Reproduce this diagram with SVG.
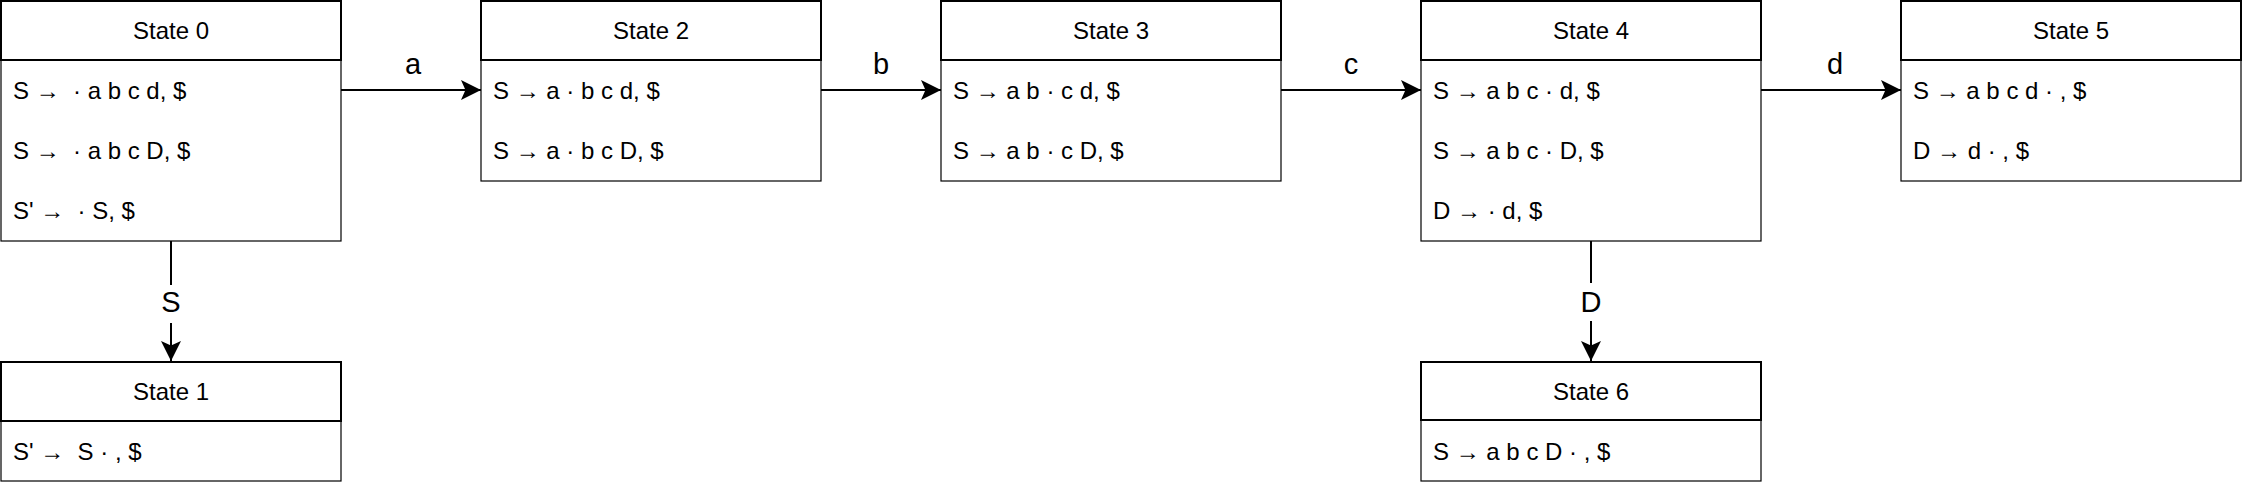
<svg xmlns="http://www.w3.org/2000/svg" width="2244" height="482" viewBox="0 0 2244 482">
<defs>
<style>
.hd{fill:#fff;stroke:#000;stroke-width:2}
.bd{fill:#fff;stroke:#000;stroke-width:1.2}
.t{font-family:"Liberation Sans",Arial,sans-serif;font-size:24px;fill:#000;white-space:pre}
.c{text-anchor:middle}
.e{fill:none;stroke:#000;stroke-width:2}
.lb{font-family:"Liberation Sans",Arial,sans-serif;font-size:29px;fill:#000;text-anchor:middle}
</style>
<marker id="ar" markerUnits="userSpaceOnUse" markerWidth="20" markerHeight="20" viewBox="0 0 18 18" refX="18" refY="9" orient="auto">
<path d="M0,0 L18,9 L0,18 L4,9 Z" fill="#000"/>
</marker>
</defs>
<rect width="2244" height="482" fill="#fff"/>
<g id="edges">
<line class="e" x1="341" y1="90" x2="481" y2="90" marker-end="url(#ar)"/>
<text class="lb" x="413" y="74">a</text>
<line class="e" x1="821" y1="90" x2="941" y2="90" marker-end="url(#ar)"/>
<text class="lb" x="881" y="74">b</text>
<line class="e" x1="1281" y1="90" x2="1421" y2="90" marker-end="url(#ar)"/>
<text class="lb" x="1351" y="74">c</text>
<line class="e" x1="1761" y1="90" x2="1901" y2="90" marker-end="url(#ar)"/>
<text class="lb" x="1835" y="74">d</text>
<line class="e" x1="171" y1="241" x2="171" y2="361" marker-end="url(#ar)"/>
<rect x="158" y="285" width="26" height="38" fill="#fff"/>
<text class="lb" x="171" y="312">S</text>
<line class="e" x1="1591" y1="241" x2="1591" y2="361" marker-end="url(#ar)"/>
<rect x="1577" y="283" width="28" height="38" fill="#fff"/>
<text class="lb" x="1591" y="312">D</text>
</g>
<g id="state0">
<rect class="bd" x="1" y="60" width="340" height="181"/>
<rect class="hd" x="1" y="1" width="340" height="59"/>
<text class="t c" x="171" y="39">State 0</text>
<text class="t" x="13" y="99">S →  · a b c d, $</text>
<text class="t" x="13" y="159">S →  · a b c D, $</text>
<text class="t" x="13" y="219">S' →  · S, $</text>
</g>
<g id="state1">
<rect class="bd" x="1" y="421" width="340" height="60"/>
<rect class="hd" x="1" y="362" width="340" height="59"/>
<text class="t c" x="171" y="400">State 1</text>
<text class="t" x="13" y="460">S' →  S · , $</text>
</g>
<g id="state2">
<rect class="bd" x="481" y="60" width="340" height="121"/>
<rect class="hd" x="481" y="1" width="340" height="59"/>
<text class="t c" x="651" y="39">State 2</text>
<text class="t" x="493" y="99">S → a · b c d, $</text>
<text class="t" x="493" y="159">S → a · b c D, $</text>
</g>
<g id="state3">
<rect class="bd" x="941" y="60" width="340" height="121"/>
<rect class="hd" x="941" y="1" width="340" height="59"/>
<text class="t c" x="1111" y="39">State 3</text>
<text class="t" x="953" y="99">S → a b · c d, $</text>
<text class="t" x="953" y="159">S → a b · c D, $</text>
</g>
<g id="state4">
<rect class="bd" x="1421" y="60" width="340" height="181"/>
<rect class="hd" x="1421" y="1" width="340" height="59"/>
<text class="t c" x="1591" y="39">State 4</text>
<text class="t" x="1433" y="99">S → a b c · d, $</text>
<text class="t" x="1433" y="159">S → a b c · D, $</text>
<text class="t" x="1433" y="219">D → · d, $</text>
</g>
<g id="state5">
<rect class="bd" x="1901" y="60" width="340" height="121"/>
<rect class="hd" x="1901" y="1" width="340" height="59"/>
<text class="t c" x="2071" y="39">State 5</text>
<text class="t" x="1913" y="99">S → a b c d · , $</text>
<text class="t" x="1913" y="159">D → d · , $</text>
</g>
<g id="state6">
<rect class="bd" x="1421" y="420" width="340" height="61"/>
<rect class="hd" x="1421" y="362" width="340" height="58"/>
<text class="t c" x="1591" y="400">State 6</text>
<text class="t" x="1433" y="460">S → a b c D · , $</text>
</g>
</svg>
